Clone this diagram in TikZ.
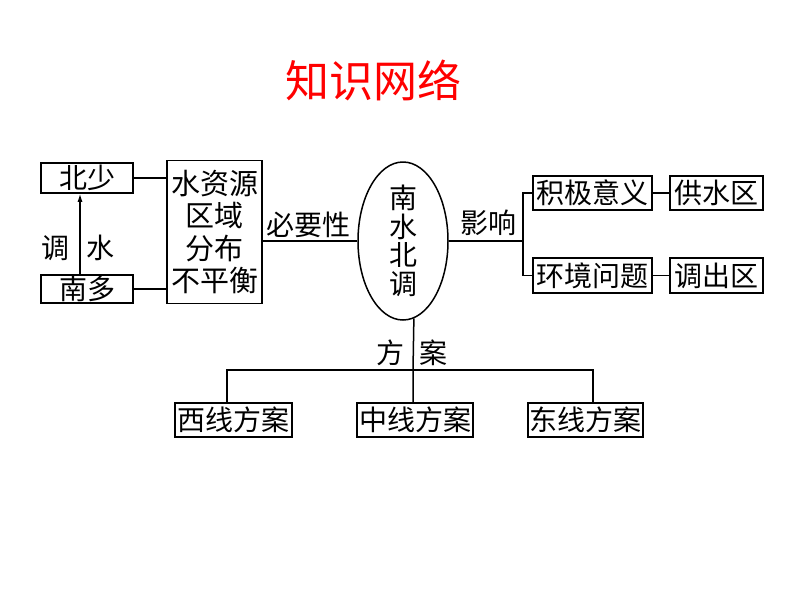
\documentclass[tikz,border=0pt]{standalone}
\usepackage{fontspec}
\setmainfont{Noto Sans CJK SC}
\usetikzlibrary{shapes.geometric,arrows.meta}
\begin{document}
\begin{tikzpicture}[x=1pt,y=-1pt,
  line width=1.5pt,
  bx/.style={draw,rectangle,inner sep=0pt,font=\fontsize{28}{30}\selectfont},
  lbl/.style={inner sep=0pt,font=\fontsize{28}{30}\selectfont}]
\useasboundingbox[fill=white] (0,0) rectangle (800,600);
% title
\node[text=red,inner sep=0pt,font=\fontsize{44}{46}\selectfont] (title) at (373,80) {知识网络};
% left part
\node[bx,minimum width=92pt,minimum height=30pt] (bs) at (87,178) {北少};
\node[bx,minimum width=92pt,minimum height=28pt] (nd) at (87,289) {南多};
\node[draw,rectangle,inner sep=0pt,minimum width=95pt,minimum height=143pt,align=center,
      font=\fontsize{29}{32.5}\selectfont] (szy) at (214.5,232) {水资源\\区域\\分布\\不平衡};
\coordinate (ax) at (80,0);
\draw[-{Latex[length=8pt,width=5pt]},line width=1.2pt] (ax |- nd.north) -- (ax |- bs.south);
\node[lbl] (ld) at (55,248) {调};
\node[lbl] (ls) at (100,248) {水};
\draw (bs.east) -- (bs.east -| szy.west);
\draw (nd.east) -- (nd.east -| szy.west);
% center ellipse
\node[draw,ellipse,inner sep=0pt,minimum width=90pt,minimum height=158pt,align=center,
      font=\fontsize{28}{28.5}\selectfont] (nbtd) at (403,241) {南\\水\\北\\调};
\draw (nbtd.west) -- (nbtd.west -| szy.east);
\node[lbl] (byx) at (308,225) {必要性};
% right part
\node[bx,minimum width=119pt,minimum height=34pt] (jj) at (592.5,193) {积极意义};
\node[bx,minimum width=93pt,minimum height=34pt] (gs) at (716.5,193) {供水区};
\node[bx,minimum width=119pt,minimum height=35pt] (hj) at (592.5,275.5) {环境问题};
\node[bx,minimum width=93pt,minimum height=35pt] (dc) at (716.5,275.5) {调出区};
\coordinate (rf) at (523,241);
\draw (nbtd.east) -- (rf);
\draw (jj.west) -| (rf) |- (hj.west);
\draw (jj.east) -- (gs.west);
\draw (hj.east) -- (dc.west);
\node[lbl] (yx) at (488,223) {影响};
% bottom part
\node[bx,minimum width=117pt,minimum height=34pt] (xi) at (233.5,420) {西线方案};
\node[bx,minimum width=116pt,minimum height=34pt] (zh) at (415,420) {中线方案};
\node[bx,minimum width=115pt,minimum height=34pt] (dg) at (585.5,420) {东线方案};
\coordinate (fk) at (413,370);
\coordinate (fl) at (227,370);
\coordinate (fr) at (593,370);
\draw (nbtd.-82.6) -- (fk) -- (fk |- zh.north);
\draw (fl |- xi.north) -- (fl) -- (fr) -- (fr |- dg.north);
\node[lbl] (fa) at (390,353) {方};
\node[lbl] (an) at (433,353) {案};
\end{tikzpicture}
\end{document}
